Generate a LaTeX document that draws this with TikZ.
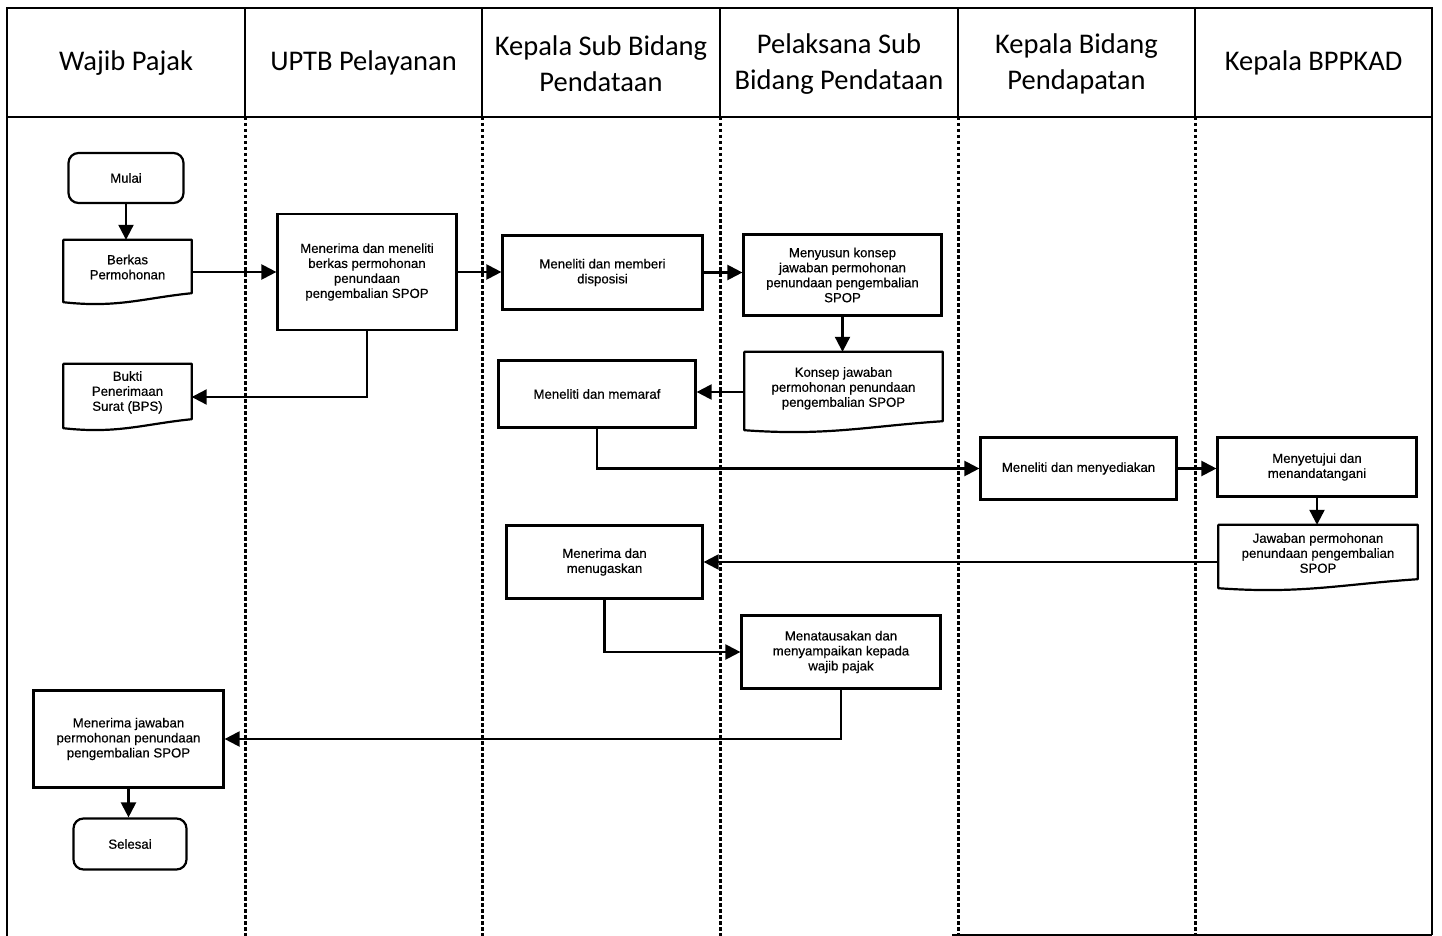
\documentclass[tikz,border=0pt]{standalone}
\usepackage{fontspec}
\setmainfont{Liberation Sans}
\newfontfamily\hdrfont{Carlito}
\newfontfamily\bodyfont{Liberation Sans}[FakeBold=0.5]
\usetikzlibrary{arrows.meta,calc}
\tikzset{
  frameline/.style={line width=2.6pt},
  lanediv/.style={line width=3pt, dash pattern=on 3.5pt off 2.5pt},
  hdr/.style={align=center, font=\hdrfont\fontsize{28.5}{36}\selectfont},
  box/.style={draw, line width=2.2pt, align=center, font=\bodyfont\fontsize{13.2}{15}\selectfont, inner sep=2pt},
  term/.style={box, rounded corners=10pt},
  docnode/.style={align=center, font=\bodyfont\fontsize{13.2}{15}\selectfont, inner sep=2pt},
  docline/.style={line width=2.2pt, line join=round},
  arr/.style={line width=2.2pt, -{Triangle[length=15pt,width=15pt]}},
}
\newcommand{\docoutline}[1]{%
  \draw[docline] (#1.north west) -- (#1.north east) -- ($(#1.south east)+(0,11pt)$)
    .. controls ($(#1.south west)!0.62!(#1.south east)+(0,6pt)$) and ($(#1.south west)!0.42!(#1.south east)+(0,-4pt)$)
    .. ($(#1.south west)+(0,2pt)$) -- cycle;}
\begin{document}
\begin{tikzpicture}[x=1pt,y=-1pt]
\useasboundingbox (0,0) rectangle (1442,936);
% frame
\draw[frameline] (7,936) -- (7,8) -- (1432,8) -- (1432,935);
\draw[frameline] (7,117) -- (1432,117);
\draw[frameline] (952,935) -- (1432,935);
\foreach \x in {245,482,720,958,1195}{
  \draw[frameline] (\x,8) -- (\x,117);
  \draw[lanediv] (\x,117) -- (\x,936);
}
% headers
\node[hdr] (h1) at (126,63) {Wajib Pajak};
\node[hdr] (h2) at (363.5,63) {UPTB Pelayanan};
\node[hdr] (h3) at (601,64) {Kepala Sub Bidang\\Pendataan};
\node[hdr] (h4) at (839,64) {Pelaksana Sub\\Bidang Pendataan};
\node[hdr] (h5) at (1076.5,64) {Kepala Bidang\\Pendapatan};
\node[hdr] (h6) at (1313.5,63) {Kepala BPPKAD};
% nodes
\node[term, minimum width=115pt, minimum height=50pt] (mulai) at (126,178) {Mulai};
\node[docnode, minimum width=128pt, minimum height=64pt] (berkas) at (127.5,272) {Berkas\\Permohonan\\[-5pt]};
\docoutline{berkas}
\node[box, minimum width=179pt, minimum height=116pt] (terima1) at (367,272) {Menerima dan meneliti\\berkas permohonan\\penundaan\\pengembalian SPOP};
\node[docnode, minimum width=128pt, minimum height=66pt] (bukti) at (127.5,397) {Bukti\\Penerimaan\\Surat (BPS)\\[-3pt]};
\docoutline{bukti}
\node[box, minimum width=200pt, minimum height=74pt] (disp) at (602.5,272.5) {Meneliti dan memberi\\disposisi};
\node[box, minimum width=198pt, minimum height=81pt] (susun) at (842.5,275) {Menyusun konsep\\jawaban permohonan\\penundaan pengembalian\\SPOP};
\node[docnode, minimum width=198pt, minimum height=80pt] (konsep) at (843.5,392) {Konsep jawaban\\permohonan penundaan\\pengembalian SPOP\\[-5pt]};
\docoutline{konsep}
\node[box, minimum width=197pt, minimum height=67pt] (paraf) at (597,394) {Meneliti dan memaraf};
\node[box, minimum width=196pt, minimum height=62pt] (sedia) at (1078.5,468.5) {Meneliti dan menyediakan};
\node[box, minimum width=199pt, minimum height=59pt] (setuju) at (1317,467) {Menyetujui dan\\menandatangani};
\node[docnode, minimum width=199pt, minimum height=65pt] (jawab) at (1318,557.5) {Jawaban permohonan\\penundaan pengembalian\\SPOP\\[-6pt]};
\docoutline{jawab}
\node[box, minimum width=196pt, minimum height=73pt] (tugas) at (604.5,562) {Menerima dan\\menugaskan};
\node[box, minimum width=199pt, minimum height=73pt] (tatausaha) at (841,652) {Menatausakan dan\\menyampaikan kepada\\wajib pajak};
\node[box, minimum width=190pt, minimum height=97pt] (terima2) at (128.5,739) {Menerima jawaban\\permohonan penundaan\\pengembalian SPOP};
\node[term, minimum width=113pt, minimum height=51pt] (selesai) at (130,844) {Selesai};
% connectors
\draw[arr] (mulai.south) -- (mulai.south |- berkas.north);
\draw[arr] (berkas.east) -- (berkas.east -| terima1.west);
\draw[arr] (terima1.east) -- (terima1.east -| disp.west);
\draw[arr] (disp.east) -- (disp.east -| susun.west);
\draw[arr] (susun.south) -- (susun.south |- konsep.north);
\draw[arr] (konsep.west) -- (konsep.west -| paraf.east);
\draw[arr] (terima1.south) |- (bukti.east);
\draw[arr] (paraf.south) |- (sedia.west);
\draw[arr] (sedia.east) -- (sedia.east -| setuju.west);
\draw[arr] (setuju.south) -- (setuju.south |- jawab.north);
\draw[arr] (jawab.west |- tugas.east) -- (tugas.east);
\draw[arr] (tugas.south) |- (tatausaha.west);
\draw[arr] (tatausaha.south) |- (terima2.east);
\draw[arr] (terima2.south) -- (terima2.south |- selesai.north);
\end{tikzpicture}
\end{document}
